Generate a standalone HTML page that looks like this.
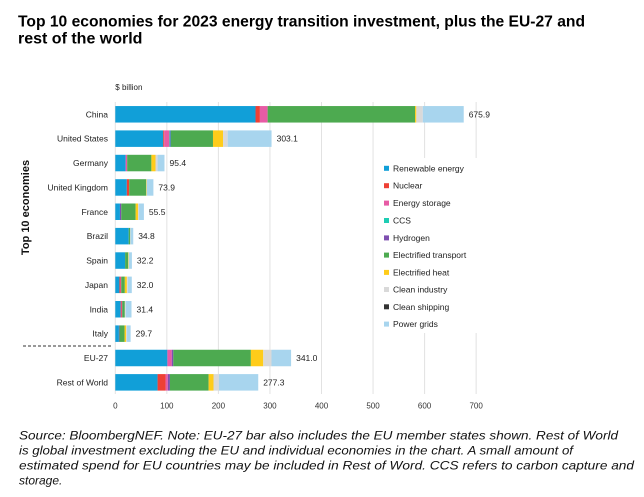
<!DOCTYPE html>
<html><head><meta charset="utf-8">
<style>
html,body{margin:0;padding:0;background:#fff;}
svg{display:block;}
text{font-family:"Liberation Sans",Arial,sans-serif;}
</style></head>
<body>
<svg width="644" height="497" viewBox="0 0 644 497" xmlns="http://www.w3.org/2000/svg">
<rect width="644" height="497" fill="#fff"/>
<!-- Title -->
<text x="18" y="26.7" font-size="16" font-weight="bold" fill="#000" textLength="567" lengthAdjust="spacingAndGlyphs">Top 10 economies for 2023 energy transition investment, plus the EU-27 and</text>
<text x="18" y="43.3" font-size="16" font-weight="bold" fill="#000">rest of the world</text>

<text x="115.3" y="90" font-size="8" fill="#222">$ billion</text>

<!-- gridlines -->
<g stroke="#e2e2e2" stroke-width="1">
<line x1="115.3" y1="102" x2="115.3" y2="394"/>
<line x1="166.85" y1="102" x2="166.85" y2="394"/>
<line x1="218.4" y1="102" x2="218.4" y2="394"/>
<line x1="269.95" y1="102" x2="269.95" y2="394"/>
<line x1="321.5" y1="102" x2="321.5" y2="394"/>
<line x1="373.05" y1="102" x2="373.05" y2="394"/>
<line x1="424.6" y1="102" x2="424.6" y2="394"/>
<line x1="476.15" y1="102" x2="476.15" y2="394"/>
</g>

<!-- tick labels -->
<g font-size="8" fill="#333" text-anchor="middle">
<text x="115.3" y="408.5">0</text>
<text x="166.85" y="408.5">100</text>
<text x="218.4" y="408.5">200</text>
<text x="269.95" y="408.5">300</text>
<text x="321.5" y="408.5">400</text>
<text x="373.05" y="408.5">500</text>
<text x="424.6" y="408.5">600</text>
<text x="476.15" y="408.5">700</text>
</g>

<!-- bars -->
<g>
<!-- China -->
<rect x="115.3" y="106.05" width="140.22" height="16.5" fill="#119FD8"/>
<rect x="255.52" y="106.05" width="4.38" height="16.5" fill="#EE4035"/>
<rect x="259.90" y="106.05" width="7.73" height="16.5" fill="#E75BA5"/>
<rect x="267.63" y="106.05" width="147.43" height="16.5" fill="#4DAA50"/>
<rect x="415.06" y="106.05" width="1.29" height="16.5" fill="#FFCC1A"/>
<rect x="416.35" y="106.05" width="6.44" height="16.5" fill="#D9D9D9"/>
<rect x="422.79" y="106.05" width="40.93" height="16.5" fill="#A8D5EE"/>
<!-- US -->
<rect x="115.3" y="130.4" width="47.94" height="16.5" fill="#119FD8"/>
<rect x="163.24" y="130.4" width="1.03" height="16.5" fill="#EE4035"/>
<rect x="164.27" y="130.4" width="5.16" height="16.5" fill="#E75BA5"/>
<rect x="169.43" y="130.4" width="1.03" height="16.5" fill="#1ECDB4"/>
<rect x="170.46" y="130.4" width="0.52" height="16.5" fill="#7E4FB0"/>
<rect x="170.97" y="130.4" width="42.01" height="16.5" fill="#4DAA50"/>
<rect x="212.99" y="130.4" width="10.05" height="16.5" fill="#FFCC1A"/>
<rect x="223.04" y="130.4" width="4.64" height="16.5" fill="#D9D9D9"/>
<rect x="227.68" y="130.4" width="43.87" height="16.5" fill="#A8D5EE"/>
<!-- Germany -->
<rect x="115.3" y="154.8" width="10.31" height="16.5" fill="#119FD8"/>
<rect x="125.61" y="154.8" width="1.55" height="16.5" fill="#E75BA5"/>
<rect x="127.16" y="154.8" width="24.23" height="16.5" fill="#4DAA50"/>
<rect x="151.39" y="154.8" width="4.12" height="16.5" fill="#FFCC1A"/>
<rect x="155.51" y="154.8" width="2.06" height="16.5" fill="#D9D9D9"/>
<rect x="157.57" y="154.8" width="6.91" height="16.5" fill="#A8D5EE"/>
<!-- UK -->
<rect x="115.3" y="179.2" width="11.55" height="16.5" fill="#119FD8"/>
<rect x="126.85" y="179.2" width="2.32" height="16.5" fill="#EE4035"/>
<rect x="129.17" y="179.2" width="17.01" height="16.5" fill="#4DAA50"/>
<rect x="146.18" y="179.2" width="0.52" height="16.5" fill="#FFCC1A"/>
<rect x="146.70" y="179.2" width="6.70" height="16.5" fill="#A8D5EE"/>
<!-- France -->
<rect x="115.3" y="203.5" width="4.64" height="16.5" fill="#119FD8"/>
<rect x="119.94" y="203.5" width="1.29" height="16.5" fill="#7E4FB0"/>
<rect x="121.23" y="203.5" width="14.43" height="16.5" fill="#4DAA50"/>
<rect x="135.66" y="203.5" width="2.32" height="16.5" fill="#FFCC1A"/>
<rect x="137.98" y="203.5" width="1.03" height="16.5" fill="#D9D9D9"/>
<rect x="139.01" y="203.5" width="4.90" height="16.5" fill="#A8D5EE"/>
<!-- Brazil -->
<rect x="115.3" y="227.9" width="13.40" height="16.5" fill="#119FD8"/>
<rect x="128.70" y="227.9" width="1.55" height="16.5" fill="#4DAA50"/>
<rect x="130.25" y="227.9" width="0.41" height="16.5" fill="#D9D9D9"/>
<rect x="130.66" y="227.9" width="2.58" height="16.5" fill="#A8D5EE"/>
<!-- Spain -->
<rect x="115.3" y="252.3" width="9.79" height="16.5" fill="#119FD8"/>
<rect x="125.09" y="252.3" width="3.09" height="16.5" fill="#4DAA50"/>
<rect x="128.18" y="252.3" width="0.52" height="16.5" fill="#FFCC1A"/>
<rect x="128.70" y="252.3" width="3.20" height="16.5" fill="#A8D5EE"/>
<!-- Japan -->
<rect x="115.3" y="276.6" width="4.12" height="16.5" fill="#119FD8"/>
<rect x="119.42" y="276.6" width="1.03" height="16.5" fill="#EE4035"/>
<rect x="120.45" y="276.6" width="0.77" height="16.5" fill="#E75BA5"/>
<rect x="121.22" y="276.6" width="3.61" height="16.5" fill="#4DAA50"/>
<rect x="124.83" y="276.6" width="2.06" height="16.5" fill="#FFCC1A"/>
<rect x="126.89" y="276.6" width="1.03" height="16.5" fill="#D9D9D9"/>
<rect x="127.92" y="276.6" width="3.87" height="16.5" fill="#A8D5EE"/>
<!-- India -->
<rect x="115.3" y="301.0" width="5.41" height="16.5" fill="#119FD8"/>
<rect x="120.71" y="301.0" width="0.77" height="16.5" fill="#EE4035"/>
<rect x="121.48" y="301.0" width="0.52" height="16.5" fill="#E75BA5"/>
<rect x="122.0" y="301.0" width="0.26" height="16.5" fill="#7E4FB0"/>
<rect x="122.26" y="301.0" width="2.58" height="16.5" fill="#4DAA50"/>
<rect x="124.84" y="301.0" width="1.03" height="16.5" fill="#D9D9D9"/>
<rect x="125.87" y="301.0" width="5.62" height="16.5" fill="#A8D5EE"/>
<!-- Italy -->
<rect x="115.3" y="325.4" width="3.61" height="16.5" fill="#119FD8"/>
<rect x="118.91" y="325.4" width="0.52" height="16.5" fill="#7E4FB0"/>
<rect x="119.43" y="325.4" width="5.16" height="16.5" fill="#4DAA50"/>
<rect x="124.59" y="325.4" width="1.55" height="16.5" fill="#FFCC1A"/>
<rect x="126.14" y="325.4" width="0.88" height="16.5" fill="#D9D9D9"/>
<rect x="127.02" y="325.4" width="3.61" height="16.5" fill="#A8D5EE"/>
<!-- EU-27 -->
<rect x="115.3" y="349.75" width="52.07" height="16.5" fill="#119FD8"/>
<rect x="167.37" y="349.75" width="4.38" height="16.5" fill="#E75BA5"/>
<rect x="171.75" y="349.75" width="1.55" height="16.5" fill="#7E4FB0"/>
<rect x="173.30" y="349.75" width="77.58" height="16.5" fill="#4DAA50"/>
<rect x="250.88" y="349.75" width="12.37" height="16.5" fill="#FFCC1A"/>
<rect x="263.25" y="349.75" width="8.25" height="16.5" fill="#D9D9D9"/>
<rect x="271.50" y="349.75" width="19.59" height="16.5" fill="#A8D5EE"/>
<!-- Rest of World -->
<rect x="115.3" y="374.1" width="42.27" height="16.5" fill="#119FD8"/>
<rect x="157.57" y="374.1" width="7.99" height="16.5" fill="#EE4035"/>
<rect x="165.56" y="374.1" width="2.32" height="16.5" fill="#E75BA5"/>
<rect x="167.88" y="374.1" width="2.06" height="16.5" fill="#7E4FB0"/>
<rect x="169.94" y="374.1" width="38.66" height="16.5" fill="#4DAA50"/>
<rect x="208.60" y="374.1" width="4.90" height="16.5" fill="#FFCC1A"/>
<rect x="213.50" y="374.1" width="5.41" height="16.5" fill="#D9D9D9"/>
<rect x="218.91" y="374.1" width="39.33" height="16.5" fill="#A8D5EE"/>
</g>

<!-- value labels -->
<g font-size="8.5" fill="#222">
<text x="468.7" y="117.3">675.9</text>
<text x="276.6" y="141.7">303.1</text>
<text x="169.5" y="166.0">95.4</text>
<text x="158.4" y="190.4">73.9</text>
<text x="148.9" y="214.8">55.5</text>
<text x="138.2" y="239.2">34.8</text>
<text x="136.9" y="263.5">32.2</text>
<text x="136.8" y="287.9">32.0</text>
<text x="136.5" y="312.3">31.4</text>
<text x="135.6" y="336.6">29.7</text>
<text x="296.1" y="361.0">341.0</text>
<text x="263.2" y="385.4">277.3</text>
</g>

<!-- category labels -->
<g font-size="8.5" fill="#222" text-anchor="end">
<text x="108" y="117.3">China</text>
<text x="108" y="141.7">United States</text>
<text x="108" y="166.0">Germany</text>
<text x="108" y="190.4">United Kingdom</text>
<text x="108" y="214.8">France</text>
<text x="108" y="239.2">Brazil</text>
<text x="108" y="263.5">Spain</text>
<text x="108" y="287.9">Japan</text>
<text x="108" y="312.3">India</text>
<text x="108" y="336.6">Italy</text>
<text x="108" y="361.0">EU-27</text>
<text x="108" y="385.4">Rest of World</text>
</g>

<!-- y axis title -->
<text transform="translate(29,207.5) rotate(-90)" font-size="11" font-weight="bold" fill="#111" text-anchor="middle">Top 10 economies</text>

<!-- dashed separator -->
<line x1="23" y1="346" x2="113" y2="346" stroke="#333" stroke-width="1" stroke-dasharray="3,2"/>

<!-- legend -->
<rect x="381" y="158" width="120" height="175" fill="#fff"/>
<g font-size="8.5" fill="#222">
<rect x="384" y="165.8" width="5" height="5" fill="#119FD8"/><text x="393" y="171.3">Renewable energy</text>
<rect x="384" y="183.2" width="5" height="5" fill="#EE4035"/><text x="393" y="188.7">Nuclear</text>
<rect x="384" y="200.6" width="5" height="5" fill="#E75BA5"/><text x="393" y="206.1">Energy storage</text>
<rect x="384" y="218.0" width="5" height="5" fill="#1ECDB4"/><text x="393" y="223.5">CCS</text>
<rect x="384" y="235.4" width="5" height="5" fill="#7E4FB0"/><text x="393" y="240.9">Hydrogen</text>
<rect x="384" y="252.6" width="5" height="5" fill="#4DAA50"/><text x="393" y="258.1">Electrified transport</text>
<rect x="384" y="269.9" width="5" height="5" fill="#FFCC1A"/><text x="393" y="275.4">Electrified heat</text>
<rect x="384" y="287.0" width="5" height="5" fill="#D9D9D9"/><text x="393" y="292.5">Clean industry</text>
<rect x="384" y="304.3" width="5" height="5" fill="#333333"/><text x="393" y="309.8">Clean shipping</text>
<rect x="384" y="321.6" width="5" height="5" fill="#A8D5EE"/><text x="393" y="327.1">Power grids</text>
</g>

<!-- footnote -->
<g font-size="12" font-style="italic" fill="#111">
<text x="19" y="439.3" textLength="599" lengthAdjust="spacingAndGlyphs">Source: BloombergNEF. Note: EU-27 bar also includes the EU member states shown. Rest of World</text>
<text x="19" y="454.5" textLength="554" lengthAdjust="spacingAndGlyphs">is global investment excluding the EU and individual economies in the chart. A small amount of</text>
<text x="19" y="469.7" textLength="615" lengthAdjust="spacingAndGlyphs">estimated spend for EU countries may be included in Rest of Word. CCS refers to carbon capture and</text>
<text x="19" y="484.7">storage.</text>
</g>
</svg>
</body></html>
